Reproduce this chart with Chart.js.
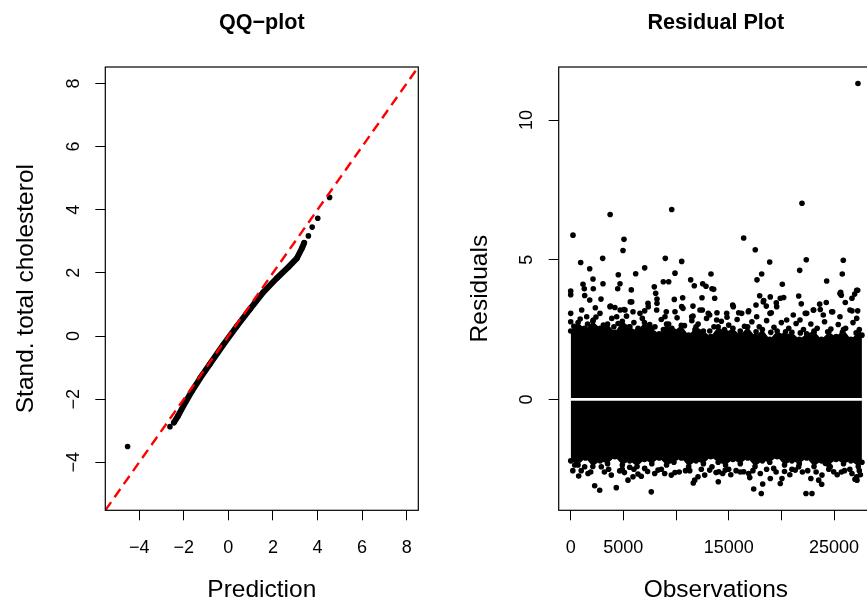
<!DOCTYPE html>
<html>
<head>
<meta charset="utf-8">
<title>QQ-plot and Residual Plot</title>
<script src="https://cdn.jsdelivr.net/npm/chart.js"></script>
<style>
  html, body { margin: 0; padding: 0; background: #fff; overflow: hidden; }
  canvas { position: absolute; top: 0; }
  #qq { left: 0; }
  #res { left: 433px; }
</style>
</head>
<body>
<canvas id="qq" width="433" height="605"></canvas>
<canvas id="res" width="450" height="605"></canvas>
<script>
// ---- QQ-plot ----
const qqTicks = [-4, -2, 0, 2, 4, 6, 8];
const qqTickLabels = ['−4', '−2', '0', '2', '4', '6', '8'];
const qqLimits = [-5.52, 8.52];
// dense part of the curve
const qqCurveX = [-2.44, -2.25, -2.02, -1.64, -1.27, -0.82, -0.22, 0.38, 0.97, 1.57, 2.17, 2.69, 3.07, 3.30, 3.40];
const qqCurveY = [-2.74, -2.52, -2.22, -1.75, -1.34, -0.88, -0.27, 0.31, 0.85, 1.39, 1.83, 2.18, 2.46, 2.78, 2.95];
// lone points at both ends
const qqTailX = [-4.52, -2.62, 3.59, 3.76, 4.01, 4.54];
const qqTailY = [-3.50, -2.87, 3.17, 3.45, 3.73, 4.39];

// ---- Residual plot ----
const resXTicks = [0, 5000, 10000, 15000, 20000, 25000];
const resXTickLabels = ['0', '5000', '', '15000', '', '25000'];
const resYTicks = [0, 5, 10];
const resYTickLabels = ['0', '5', '10'];
const resXLimits = [-1139, 28700];
const resYLimits = [-3.97, 11.9];
const nObs = 27650;
// outline of the solid black mass of residuals
const bandObs = [0, 700, 1400, 2100, 2800, 3500, 4200, 4900, 5600, 6300, 7000, 7700, 8400, 9100, 9800, 10500,
  11200, 11900, 12600, 13300, 14000, 14700, 15400, 16100, 16800, 17500, 18200, 18900, 19600, 20300, 21000,
  21700, 22400, 23100, 23800, 24500, 25200, 25900, 26600, 27300, 27650];
const bandUpper = [2.45, 2.75, 2.5, 2.8, 2.55, 2.7, 2.4, 2.8, 2.6, 2.45, 2.75,
  2.55, 2.35, 2.7, 2.45, 2.65, 2.3, 2.6, 2.45, 2.25, 2.6, 2.4, 2.55, 2.3, 2.6,
  2.25, 2.5, 2.15, 2.45, 2.3, 2.4, 2.15, 2.35, 2.45, 2.15, 2.4, 2.25, 2.5, 2.15, 2.4, 2.3];
const bandLower = [-2.2, -2.35, -2.1, -2.4, -2.2, -2.3, -2.05, -2.35, -2.2, -2.4,
  -2.15, -2.3, -2.1, -2.35, -2.25, -2.1, -2.4, -2.2, -2.3, -2.05,
  -2.25, -2.35, -2.15, -2.3, -2.1, -2.4, -2.2, -2.25, -2.05, -2.35,
  -2.2, -2.3, -2.1, -2.4, -2.2, -2.35, -2.15, -2.3, -2.2, -2.4, -2.25];
// residuals standing out above the band [observation, residual]
const highResiduals = [
  [27274, 11.31], [218, 5.88], [3744, 6.62], [9588, 6.80], [21958, 7.02], [16423, 5.78], [5060, 5.73],
  [4965, 5.33], [17524, 5.36], [949, 4.90], [3038, 5.05], [8981, 5.05], [10537, 4.94], [18891, 4.92],
  [22366, 5.00], [25878, 4.98], [1804, 4.68], [7025, 4.71], [21740, 4.62], [4519, 4.46], [6170, 4.50],
  [9901, 4.52], [13319, 4.49], [18131, 4.49], [25783, 4.49], [1168, 4.12], [2117, 4.31], [3066, 4.14],
  [4680, 4.14], [8791, 4.21], [9303, 4.21], [11392, 4.28], [11734, 4.07], [12531, 4.14], [12844, 4.05],
  [13414, 3.96], [17686, 4.28], [20090, 4.12], [24303, 4.24], [0, 3.88], [0, 3.75], [1291, 3.96],
  [2145, 3.96], [4462, 3.96], [5753, 3.92], [7936, 4.03], [8069, 3.80], [27150, 3.91], [25565, 3.79],
  [1329, 3.72], [1804, 3.56], [2876, 3.59], [5658, 3.49], [8192, 3.59], [8192, 3.44], [7338, 3.44],
  [9835, 3.58], [10632, 3.64], [12464, 3.64], [0, 3.08], [0, 2.78], [2339, 3.28], [3776, 3.34],
  [4194, 3.29], [4697, 3.20], [5060, 3.22], [5915, 3.14], [7025, 3.17], [9075, 3.14], [10660, 3.26],
  [11609, 3.34], [12496, 3.20], [11609, 2.98], [13193, 3.02],
  [13575, 3.94], [13670, 3.62], [17942, 3.71], [18322, 3.54], [18948, 3.67], [19897, 3.62], [20220, 3.65],
  [21644, 3.70], [21891, 3.42], [25631, 3.83], [25688, 3.73], [26068, 3.47], [26704, 3.62], [26960, 3.77],
  [27245, 3.91], [15379, 3.38], [17591, 3.38], [18569, 3.34], [19518, 3.46], [23638, 3.41], [24264, 3.47],
  [23068, 3.20], [23694, 3.22], [24872, 3.14], [26704, 3.17], [27245, 3.17], [13888, 3.10], [14838, 2.94],
  [15948, 3.10], [16897, 3.17], [19043, 3.10], [22271, 3.08],
  [1044, 3.20], [1519, 2.96], [2145, 2.84], [2781, 3.08], [3731, 3.32], [4367, 2.96], [5155, 3.20],
  [5791, 3.49], [6579, 3.08], [7367, 3.32], [8164, 3.20], [8952, 2.96], [9901, 3.14], [10537, 3.32],
  [11487, 2.96], [12274, 3.20], [13062, 3.08], [13860, 2.84], [14809, 3.08], [15436, 3.32], [16233, 3.08],
  [16860, 3.14], [17657, 2.96], [18284, 3.49], [18920, 3.08], [19556, 3.32], [20505, 2.84], [21131, 3.02],
  [21767, 2.84], [22403, 3.08], [23030, 3.20], [23979, 3.02], [24777, 3.14], [25565, 2.96], [26514, 3.20],
  [27150, 2.90]
];
// crowded dots just above the solid mass
const upperFringe = [
  [300, 2.62], [900, 2.88], [1600, 2.7], [2400, 2.95], [3100, 2.66], [3900, 2.9], [4500, 2.72], [5300, 2.98],
  [6000, 2.75], [6800, 2.9], [7500, 2.68], [8600, 2.86], [9300, 2.7], [10100, 2.92], [10800, 2.64],
  [11500, 2.82], [12100, 2.7], [12900, 2.9], [13600, 2.6], [14300, 2.8], [15000, 2.66], [15800, 2.86],
  [16500, 2.62], [17200, 2.78], [17900, 2.6], [18600, 2.82], [19300, 2.58], [20000, 2.75], [20700, 2.55],
  [21400, 2.72], [22100, 2.5], [22800, 2.7], [23400, 2.55], [24100, 2.78], [24700, 2.52], [25400, 2.68],
  [26100, 2.55], [26800, 2.75], [27400, 2.5],
  [600, 2.5], [1300, 2.55], [2000, 2.6], [2700, 2.5], [3400, 2.55], [4100, 2.6], [4800, 2.5], [5600, 2.6],
  [6400, 2.55], [7200, 2.5], [8000, 2.6], [8800, 2.5], [9600, 2.55], [10400, 2.48], [11800, 2.5],
  [13200, 2.45], [14600, 2.5], [16100, 2.45], [17600, 2.42], [19000, 2.4], [20400, 2.42], [21800, 2.38],
  [23100, 2.4], [24400, 2.42], [25800, 2.4], [27100, 2.38]
];
// residuals standing out below the band
const lowResiduals = [
  [2278, -3.09], [2753, -3.25], [4329, -3.16], [7651, -3.31], [759, -2.74], [1642, -2.65], [3854, -2.71],
  [4652, -2.56], [5440, -2.89], [5914, -2.77], [6389, -2.67], [5601, -2.43], [7025, -2.47], [7974, -2.65],
  [8287, -2.53], [8923, -2.65], [9550, -2.71], [11771, -2.89], [12085, -2.77], [12721, -2.71], [13195, -2.53],
  [1329, -2.41], [380, -2.35], [2905, -2.41],
  [18094, -3.37], [17372, -3.21], [18226, -3.03], [19897, -3.01], [22337, -3.37], [22907, -3.37],
  [18948, -2.83], [20059, -2.83], [17999, -2.65], [22800, -2.83], [23543, -2.89], [23856, -2.71],
  [16423, -2.59], [16897, -2.65], [14050, -2.59], [14676, -2.53], [13414, -2.41], [24169, -2.29],
  [24644, -2.41], [24967, -2.59], [26704, -2.65], [27179, -2.89], [21321, -2.53], [21644, -2.41], [19271, -2.47],
  [23827, -3.04], [26989, -2.86], [27150, -2.77], [11638, -2.99], [14012, -2.95], [14430, -2.65],
  [1000, -2.55], [3200, -2.6], [4900, -2.5], [6700, -2.75], [10300, -2.6], [10900, -2.55], [15200, -2.7],
  [15700, -2.55], [17000, -2.8], [19500, -2.6], [20800, -2.7], [22000, -2.6], [25300, -2.7], [26000, -2.55],
  [27500, -2.7],
  [200, -2.55], [1900, -2.6], [3600, -2.5], [5100, -2.62], [6000, -2.5], [7300, -2.58], [8600, -2.5],
  [9900, -2.62], [11300, -2.55], [12400, -2.5], [13800, -2.62], [15000, -2.5], [16100, -2.6], [17300, -2.55],
  [18600, -2.5], [20300, -2.58], [21000, -2.5], [22500, -2.55], [23300, -2.6], [24500, -2.5], [25700, -2.6],
  [26500, -2.5], [27400, -2.55]
];

const FONT = '"Liberation Sans", Arial, Helvetica, sans-serif';

// axis with R-like outside tick marks, labels drawn by the plugin below
function rAxis(min, max, ticks) {
  return {
    type: 'linear',
    min: min,
    max: max,
    afterBuildTicks: s => { s.ticks = ticks.map(v => ({ value: v })); },
    grid: { drawOnChartArea: false, drawTicks: true, tickLength: 10, color: '#000', lineWidth: 1 },
    border: { display: false },
    ticks: { display: false }
  };
}

// frame, title, tick labels and axis titles in base-R style
const rFrame = {
  id: 'rFrame',
  afterDraw(chart, args, o) {
    const ctx = chart.ctx;
    const a = chart.chartArea;
    const sx = chart.scales.x, sy = chart.scales.y;
    const cx = (a.left + a.right) / 2;
    const cy = (a.top + a.bottom) / 2;
    ctx.save();
    ctx.strokeStyle = '#000';
    ctx.lineWidth = 1.2;
    ctx.strokeRect(a.left, a.top, a.right - a.left, a.bottom - a.top);
    ctx.fillStyle = '#000';
    ctx.textAlign = 'center';
    ctx.textBaseline = 'alphabetic';

    ctx.font = 'bold 21.6px ' + FONT;
    ctx.fillText(o.title, cx, 29.3);

    ctx.font = '18px ' + FONT;
    o.xTicks.forEach((v, i) => ctx.fillText(o.xLabels[i], sx.getPixelForValue(v), 552.5));
    o.yTicks.forEach((v, i) => {
      ctx.save();
      ctx.translate(a.left - 26.3, sy.getPixelForValue(v));
      ctx.rotate(-Math.PI / 2);
      ctx.fillText(o.yLabels[i], 0, 0);
      ctx.restore();
    });

    ctx.font = '24.5px ' + FONT;
    ctx.fillText(o.xTitle, cx, 597);
    ctx.save();
    ctx.translate(a.left - 72, cy);
    ctx.rotate(-Math.PI / 2);
    ctx.fillText(o.yTitle, 0, 0);
    ctx.restore();
    ctx.restore();
  }
};

const dot = { pointRadius: 2.8, pointBackgroundColor: '#000', pointBorderWidth: 0, pointHoverRadius: 2.8 };

// QQ-plot
const qqCurve = qqCurveX.map((x, i) => ({ x: x, y: qqCurveY[i] }));
const qqTail = qqTailX.map((x, i) => ({ x: x, y: qqTailY[i] }));

new Chart(document.getElementById('qq'), {
  type: 'line',
  data: {
    datasets: [
      { data: [{ x: qqLimits[0], y: qqLimits[0] }, { x: qqLimits[1], y: qqLimits[1] }],
        borderColor: '#ff0000', borderWidth: 2.4, borderDash: [10, 6], pointRadius: 0 },
      Object.assign({ data: qqCurve, borderColor: '#000', borderWidth: 6,
        borderCapStyle: 'round', borderJoinStyle: 'round' }, dot),
      Object.assign({ data: qqTail, showLine: false }, dot)
    ]
  },
  options: {
    responsive: false,
    animation: false,
    layout: { padding: { left: 0, top: 67, right: 14.7, bottom: 0 } },
    scales: {
      x: Object.assign(rAxis(qqLimits[0], qqLimits[1], qqTicks), { afterFit: s => { s.height = 94.7; } }),
      y: Object.assign(rAxis(qqLimits[0], qqLimits[1], qqTicks), { afterFit: s => { s.width = 105.3; } })
    },
    plugins: {
      legend: { display: false },
      tooltip: { enabled: false },
      rFrame: { title: 'QQ−plot', xTitle: 'Prediction', yTitle: 'Stand. total cholesterol',
        xTicks: qqTicks, xLabels: qqTickLabels, yTicks: qqTicks, yLabels: qqTickLabels }
    }
  },
  plugins: [rFrame]
});

// Residual plot
const toPoints = list => list.map(p => ({ x: p[0], y: p[1] }));
const upperEdge = bandObs.map((x, i) => ({ x: x, y: bandUpper[i] }));
const lowerEdge = bandObs.map((x, i) => ({ x: x, y: bandLower[i] }));

new Chart(document.getElementById('res'), {
  type: 'line',
  data: {
    datasets: [
      { data: [{ x: 0, y: 0 }, { x: nObs, y: 0 }], borderColor: '#fff', borderWidth: 2.8, pointRadius: 0 },
      Object.assign({ data: toPoints(highResiduals), showLine: false }, dot),
      Object.assign({ data: toPoints(upperFringe), showLine: false }, dot),
      Object.assign({ data: toPoints(lowResiduals), showLine: false }, dot),
      Object.assign({ data: upperEdge, borderWidth: 0, borderColor: '#000', fill: '+1', backgroundColor: '#000' }, dot),
      Object.assign({ data: lowerEdge, borderWidth: 0, borderColor: '#000', fill: false }, dot)
    ]
  },
  options: {
    responsive: false,
    animation: false,
    layout: { padding: { left: 0, top: 67, right: 10, bottom: 0 } },
    scales: {
      x: Object.assign(rAxis(resXLimits[0], resXLimits[1], resXTicks), { afterFit: s => { s.height = 94.7; } }),
      y: Object.assign(rAxis(resYLimits[0], resYLimits[1], resYTicks), { afterFit: s => { s.width = 125.7; } })
    },
    plugins: {
      legend: { display: false },
      tooltip: { enabled: false },
      rFrame: { title: 'Residual Plot', xTitle: 'Observations', yTitle: 'Residuals',
        xTicks: resXTicks, xLabels: resXTickLabels, yTicks: resYTicks, yLabels: resYTickLabels }
    }
  },
  plugins: [rFrame]
});
</script>
</body>
</html>
